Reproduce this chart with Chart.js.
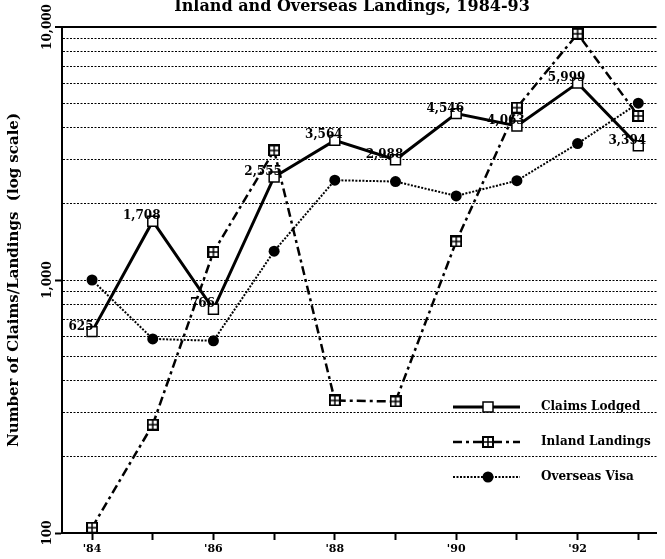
<!DOCTYPE html>
<html>
<head>
<meta charset="utf-8">
<script src="https://cdn.jsdelivr.net/npm/chart.js@4.4.1/dist/chart.umd.min.js"></script>
<style>
  html, body { margin: 0; padding: 0; background: #fff; }
</style>
</head>
<body>
<canvas id="chart" width="665" height="559"></canvas>
<script>
'use strict'

// data
const years = [1984, 1985, 1986, 1987, 1988, 1989, 1990, 1991, 1992, 1993];
const claimsLodged = [625, 1708, 766, 2555, 3564, 2988, 4546, 4063, 5999, 3394];
const inlandLandings = [105, 268, 1290, 3250, 334, 331, 1420, 4800, 9400, 4450];
const overseasVisa = [1000, 585, 575, 1300, 2480, 2450, 2150, 2470, 3460, 5000];
const seriesNames = ['Claims Lodged', 'Inland Landings', 'Overseas Visa'];
const yGridValues = [100, 200, 300, 400, 500, 600, 700, 800, 900,
                     1000, 2000, 3000, 4000, 5000, 6000, 7000, 8000, 9000, 10000];
const yLabelValues = [100, 1000, 10000];
const chartTitle = 'Inland and Overseas Landings, 1984-93';
const yTitle = 'Number of Claims/Landings  (log scale)';

const serif = 'DejaVu Serif';

function toPoints(values) {
  return values.map(function(v, i) { return { x: years[i], y: v }; });
}

// square with a cross in it, used for inland landings
function boxPlus() {
  const c = document.createElement('canvas');
  c.width = 12; c.height = 12;
  const g = c.getContext('2d');
  g.fillStyle = '#fff';
  g.fillRect(1, 1, 10, 10);
  g.strokeStyle = '#000';
  g.lineWidth = 2;
  g.strokeRect(1, 1, 10, 10);
  g.lineWidth = 1.5;
  g.beginPath();
  g.moveTo(6, 1); g.lineTo(6, 11);
  g.moveTo(1, 6); g.lineTo(11, 6);
  g.stroke();
  return c;
}
const inlandMark = boxPlus();

const titlePlugin = {
  id: 'topTitle',
  afterDraw(chart) {
    const ctx = chart.ctx;
    ctx.save();
    ctx.font = 'bold 16px "' + serif + '"';
    ctx.fillStyle = '#000';
    ctx.textAlign = 'center';
    ctx.textBaseline = 'alphabetic';
    ctx.fillText(chartTitle, 352, 11);
    ctx.restore();
  }
};

// numbers above the claims lodged points
const valueLabels = {
  id: 'valueLabels',
  afterDatasetsDraw(chart) {
    const ctx = chart.ctx;
    const meta = chart.getDatasetMeta(0);
    ctx.save();
    ctx.font = 'bold 12px "' + serif + '"';
    ctx.fillStyle = '#000';
    ctx.textAlign = 'center';
    ctx.textBaseline = 'alphabetic';
    meta.data.forEach(function(pt, i) {
      ctx.fillText(claimsLodged[i].toLocaleString('en-US'), pt.x - 11, pt.y - 2);
    });
    ctx.restore();
  }
};

// key in the lower right corner
const keyPlugin = {
  id: 'key',
  afterDraw(chart) {
    const ctx = chart.ctx;
    const rows = [407, 442, 477];
    ctx.save();
    chart.data.datasets.forEach(function(ds, i) {
      const y = rows[i];
      ctx.strokeStyle = '#000';
      ctx.lineWidth = ds.borderWidth;
      ctx.setLineDash(ds.borderDash || []);
      ctx.beginPath();
      ctx.moveTo(453, y);
      ctx.lineTo(520, y);
      ctx.stroke();
      ctx.setLineDash([]);
      if (i === 0) {
        ctx.fillStyle = '#fff';
        ctx.lineWidth = 1.5;
        ctx.fillRect(483, y - 5, 10, 10);
        ctx.strokeRect(483, y - 5, 10, 10);
      } else if (i === 1) {
        ctx.drawImage(inlandMark, 488 - 6, y - 6);
      } else {
        ctx.fillStyle = '#000';
        ctx.beginPath();
        ctx.arc(488, y, 5.5, 0, Math.PI * 2);
        ctx.fill();
      }
      ctx.fillStyle = '#000';
      ctx.font = 'bold 12px "' + serif + '"';
      ctx.textAlign = 'left';
      ctx.textBaseline = 'middle';
      ctx.fillText(ds.label, 541, y);
    });
    ctx.restore();
  }
};

const chart = new Chart(document.getElementById('chart'), {
  type: 'line',
  data: {
    datasets: [
      {
        label: seriesNames[0],
        data: toPoints(claimsLodged),
        borderColor: '#000',
        borderWidth: 3,
        pointStyle: 'rect',
        pointRadius: 7,
        pointBackgroundColor: '#fff',
        pointBorderColor: '#000',
        pointBorderWidth: 1.5,
        clip: false
      },
      {
        label: seriesNames[1],
        data: toPoints(inlandLandings),
        borderColor: '#000',
        borderWidth: 2.5,
        borderDash: [9, 4, 3, 4],
        pointStyle: inlandMark,
        pointRadius: 5,
        clip: false
      },
      {
        label: seriesNames[2],
        data: toPoints(overseasVisa),
        borderColor: '#000',
        borderWidth: 2,
        borderDash: [2, 1.5],
        pointStyle: 'circle',
        pointRadius: 5.5,
        pointBackgroundColor: '#000',
        pointBorderColor: '#000',
        pointBorderWidth: 0,
        clip: false
      }
    ]
  },
  options: {
    responsive: false,
    animation: false,
    devicePixelRatio: 1,
    layout: { padding: { top: 27, right: 0, bottom: 0, left: 0 } },
    plugins: {
      legend: { display: false },
      tooltip: { enabled: false },
      title: { display: false }
    },
    scales: {
      x: {
        type: 'linear',
        min: 1983.505,
        max: 1993.3,
        afterFit: function(s) { s.height = 26; },
        grid: {
          drawOnChartArea: false,
          tickLength: 7,
          tickWidth: 2,
          tickColor: '#000'
        },
        border: { display: true, color: '#000', width: 2 },
        ticks: {
          stepSize: 1,
          includeBounds: false,
          autoSkip: false,
          maxRotation: 0,
          padding: 3,
          color: '#000',
          font: { family: serif, weight: 'bold', size: 11 },
          callback: function(v) { return v % 2 === 0 ? "'" + String(v).slice(2) : ''; }
        }
      },
      y: {
        type: 'logarithmic',
        min: 100,
        max: 10000,
        afterFit: function(s) { s.width = 62; },
        afterBuildTicks: function(s) {
          s.ticks = yGridValues.map(function(v) { return { value: v, major: yLabelValues.includes(v) }; });
        },
        grid: {
          color: '#000',
          lineWidth: function(c) { return c.tick && c.tick.value === 10000 ? 2 : 1; },
          tickLength: 7,
          tickWidth: 2,
          tickColor: function(c) { return c.tick && yLabelValues.includes(c.tick.value) ? '#000' : 'rgba(0,0,0,0)'; }
        },
        border: {
          display: true,
          color: '#000',
          width: 2,
          dash: function(c) { return c.tick && c.tick.value === 10000 ? [] : [2, 1.5]; }
        },
        ticks: {
          autoSkip: false,
          minRotation: 90,
          maxRotation: 90,
          crossAlign: 'center',
          padding: -16,
          color: '#000',
          font: { family: serif, weight: 'bold', size: 12 },
          callback: function(v) { return yLabelValues.includes(v) ? v.toLocaleString('en-US') : ''; }
        },
        title: {
          display: true,
          text: yTitle,
          color: '#000',
          font: { family: serif, weight: 'bold', size: 15 },
          padding: { top: 5, bottom: 0 }
        }
      }
    }
  },
  plugins: [titlePlugin, valueLabels, keyPlugin]
});
</script>
</body>
</html>
